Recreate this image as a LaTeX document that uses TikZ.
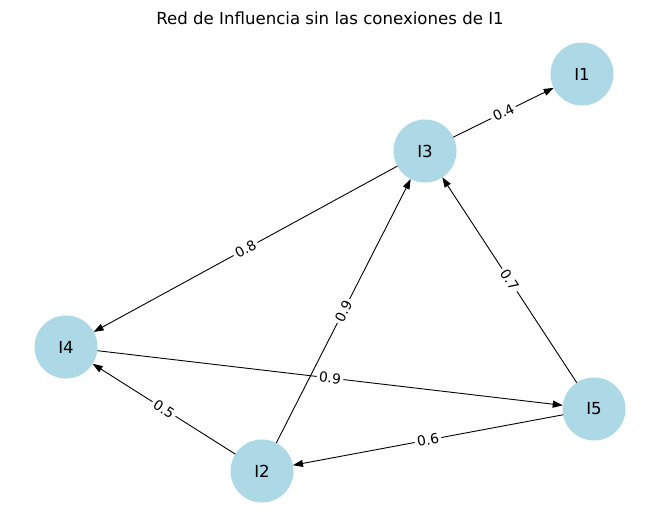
\documentclass[tikz,border=0pt]{standalone}
\usepackage{fontspec}
\setmainfont{DejaVu Sans}
\usetikzlibrary{arrows.meta}

\begin{document}
\begin{tikzpicture}[
  x=1pt, y=-1pt,
  agent/.style={circle, fill={rgb,255:red,173;green,216;blue,230}, minimum size=63pt, inner sep=0pt, outer sep=0pt, font=\fontsize{16.6}{18}\selectfont},
  link/.style={-{Stealth[length=10pt, width=7pt, inset=0pt]}, line width=0.9pt},
  weight/.style={midway, sloped, fill=white, inner sep=2.5pt, font=\fontsize{13.8}{15}\selectfont}
]
\useasboundingbox (0,0) rectangle (660,522);

% Title
\node[font=\fontsize{16.6}{18}\selectfont] (title) at (330,18) {Red de Influencia sin las conexiones de I1};

% Agents
\node[agent] (i1) at (582,74) {I1};
\node[agent] (i3) at (425,151) {I3};
\node[agent] (i4) at (66,347) {I4};
\node[agent] (i5) at (594,409) {I5};
\node[agent] (i2) at (262,471) {I2};

% Influences
\draw[link] (i3) -- (i1) node[weight] {0.4};
\draw[link] (i3) -- (i4) node[weight] {0.8};
\draw[link] (i2) -- (i3) node[weight] {0.9};
\draw[link] (i5) -- (i3) node[weight] {0.7};
\draw[link] (i4) -- (i5) node[weight] {0.9};
\draw[link] (i2) -- (i4) node[weight] {0.5};
\draw[link] (i5) -- (i2) node[weight] {0.6};
\end{tikzpicture}
\end{document}
